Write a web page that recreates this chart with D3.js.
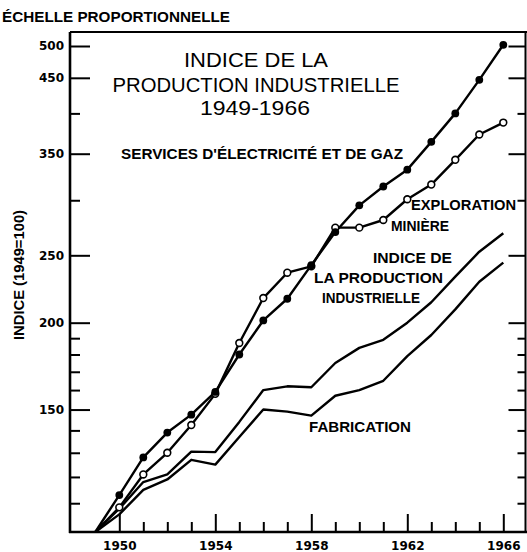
<!DOCTYPE html>
<html><head><meta charset="utf-8">
<script src="https://cdn.jsdelivr.net/npm/d3@7"></script>
<style>body{margin:0;background:#fff}svg{display:block}</style>
</head><body><svg id="c" width="527" height="552"></svg>
<script>
// ---- data ----
const years = [1949,1950,1951,1952,1953,1954,1955,1956,1957,1958,1959,1960,1961,1962,1963,1964,1965,1966];
const electriciteGaz   = [100,113,128,139,147.5,159,180,201.5,216.5,242,270,295,314,332,364,400,447,502];
const explorationMin   = [100,108.5,121,130,142.5,158,187,217,236,241,274,274,281,301,316,343,373,388];
const indiceProduction = [100,108,118,121,130.5,130.3,144,160,162,161.5,175,184,189,200,214,233,253,269];
const fabrication      = [100,106,115,119,127,125,137,150,149,147,157,160,165,179,192,209,229,244];
const yMajorTicks = [150,200,250,350,450,500];
const yMinorTicks = [110,120,130,140,160,170,180,190,300,400];
const xMajorTicks = [1950,1954,1958,1962,1966];
const xMinorTicks = [1951,1952,1953,1955,1956,1957,1959,1960,1961,1963,1964,1965];

// ---- layout ----
const TICKFONT = "'DejaVu Sans', 'Liberation Sans', sans-serif";
const FONT = "'Liberation Sans', Arial, sans-serif";
const pLeft = 70, pRight = 525.5, pTop = 32, pBottom = 532;
const svg = d3.select("#c");
const x = d3.scaleLinear().domain([1949,1966]).range([95.3,503.3]);
const y = d3.scaleLog().domain([100,500]).range([532,46]);

function styleAxis(g, sw){
  g.select(".domain").remove();
  g.selectAll("line").attr("stroke","#000").attr("stroke-width",sw);
  g.selectAll("text").attr("font-family",TICKFONT).attr("font-size",12).attr("font-weight","bold").attr("fill","#000");
}
// left axis
styleAxis(svg.append("g").attr("transform",`translate(${pLeft},0)`)
  .call(d3.axisLeft(y).tickValues(yMajorTicks).tickFormat(d3.format("d")).tickSize(-20).tickPadding(6)), 2);
styleAxis(svg.append("g").attr("transform",`translate(${pLeft},0)`)
  .call(d3.axisLeft(y).tickValues(yMinorTicks).tickFormat("").tickSize(-10)), 2);
// right axis
styleAxis(svg.append("g").attr("transform",`translate(${pRight},0)`)
  .call(d3.axisRight(y).tickValues(yMajorTicks).tickFormat("").tickSize(-17)), 2);
styleAxis(svg.append("g").attr("transform",`translate(${pRight},0)`)
  .call(d3.axisRight(y).tickValues(yMinorTicks).tickFormat("").tickSize(-8)), 2);
// bottom axis
styleAxis(svg.append("g").attr("transform",`translate(0,${pBottom})`)
  .call(d3.axisBottom(x).tickValues(xMajorTicks).tickFormat(d3.format("d")).tickSize(-18).tickPadding(9)), 2);
styleAxis(svg.append("g").attr("transform",`translate(0,${pBottom})`)
  .call(d3.axisBottom(x).tickValues(xMinorTicks).tickFormat("").tickSize(-10)), 2);

// frame
svg.append("line").attr("x1",pLeft).attr("x2",pLeft).attr("y1",pTop).attr("y2",pBottom+1).attr("stroke","#000").attr("stroke-width",2.6);
svg.append("line").attr("x1",pLeft-1).attr("x2",527).attr("y1",pBottom).attr("y2",pBottom).attr("stroke","#000").attr("stroke-width",2.6);
svg.append("line").attr("x1",pLeft).attr("x2",527).attr("y1",pTop).attr("y2",pTop).attr("stroke","#000").attr("stroke-width",2);
svg.append("line").attr("x1",pRight).attr("x2",pRight).attr("y1",pTop).attr("y2",pBottom).attr("stroke","#000").attr("stroke-width",2);

// series lines
const line = d3.line().x((d,i)=>x(years[i])).y(d=>y(d));
[fabrication, indiceProduction, explorationMin, electriciteGaz].forEach(s=>{
  svg.append("path").datum(s).attr("d",line).attr("fill","none").attr("stroke","#000").attr("stroke-width",2.4).attr("stroke-linejoin","round");
});
// markers
svg.append("g").selectAll("circle").data(explorationMin.slice(1)).join("circle")
  .attr("cx",(d,i)=>x(years[i+1])).attr("cy",d=>y(d)).attr("r",3.4)
  .attr("fill","#fff").attr("stroke","#000").attr("stroke-width",1.6);
svg.append("g").selectAll("circle").data(electriciteGaz.slice(1)).join("circle")
  .attr("cx",(d,i)=>x(years[i+1])).attr("cy",d=>y(d)).attr("r",3.9).attr("fill","#000");

// texts
function txt(s, xx, yy, size, w, len, anchor){
  const t = svg.append("text").attr("x",xx).attr("y",yy).attr("font-family",FONT)
    .attr("font-size",size).attr("font-weight",w).attr("fill","#000").text(s);
  if(anchor) t.attr("text-anchor",anchor);
  if(len) t.attr("textLength",len).attr("lengthAdjust","spacingAndGlyphs");
  return t;
}
txt("ÉCHELLE PROPORTIONNELLE", 2, 22, 14.5, "bold", 228);
txt("INDICE DE LA", 256, 66.5, 21, "normal", 144, "middle");
txt("PRODUCTION INDUSTRIELLE", 256, 91.5, 21, "normal", 287, "middle");
txt("1949-1966", 255, 115, 21, "normal", 110, "middle");
txt("SERVICES D'ÉLECTRICITÉ ET DE GAZ", 121, 159, 15, "bold", 282);
txt("EXPLORATION", 411, 210, 15, "bold", 105);
txt("MINIÈRE", 391, 231, 15, "bold", 58);
txt("INDICE DE", 373, 263, 15, "bold", 79);
txt("LA PRODUCTION", 314, 283, 15, "bold", 129);
txt("INDUSTRIELLE", 322, 303, 15, "bold", 98);
txt("FABRICATION", 309, 432, 15, "bold", 102);
svg.append("text").attr("transform","translate(24,275) rotate(-90)").attr("text-anchor","middle")
  .attr("font-family",FONT).attr("font-size",14.5).attr("font-weight","bold")
  .attr("textLength",130).attr("lengthAdjust","spacingAndGlyphs").text("INDICE (1949=100)");
</script></body></html>
